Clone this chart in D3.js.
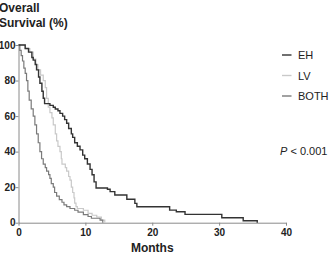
<!DOCTYPE html>
<html>
<head>
<meta charset="utf-8">
<script src="https://cdn.jsdelivr.net/npm/d3@7"></script>
<style>
  body { margin: 0; background: #fff; }
  svg { display: block; font-family: "Liberation Sans", Arial, sans-serif; }
</style>
</head>
<body>
<svg id="chart" width="334" height="254"></svg>
<script>
// survival steps: months, % surviving after that month
var ehMonths = [0, 1.0, 1.5, 2.0, 2.2, 2.5, 2.7, 3.0, 3.2, 3.5, 3.7, 3.9, 4.7, 5.2, 5.5, 5.9, 6.2, 6.6, 6.9, 7.2, 7.5, 7.9, 8.1, 8.4, 8.8, 9.2, 9.6, 9.9, 10.3, 10.7, 11.0, 11.3, 11.6, 13.3, 13.7, 14.4, 16.2, 17.4, 17.7, 22.6, 23.6, 24.9, 30.4, 33.6, 35.7]
var ehSurvival = [100, 98, 96, 93, 91.5, 89, 86, 82, 78.5, 74, 70, 67, 66, 65, 64, 63, 61.5, 60, 58, 56, 53, 50, 48, 45, 43, 41, 38, 36, 33, 30, 27, 23, 19.5, 18.8, 17.5, 15.6, 13.2, 10.9, 9.0, 7.1, 6.2, 4.7, 2.8, 1.1, 0]

var lvMonths = [0, 1.0, 1.7, 2.2, 2.6, 2.9, 3.3, 3.7, 4.0, 4.2, 4.45, 4.7, 5.0, 5.2, 5.5, 5.7, 5.9, 6.2, 6.4, 6.5, 7.0, 7.2, 7.5, 7.7, 7.9, 8.1, 8.3, 8.4, 8.6, 8.8, 9.7, 10.4, 11.0, 11.7, 12.4, 12.9]
var lvSurvival = [100, 98, 96, 92, 89, 86, 83, 80, 76, 70, 65, 62, 59, 55, 50, 46, 43, 40, 36, 33, 31, 29, 26, 24, 20, 17, 14, 11, 9, 8, 7, 5.3, 4.2, 3.2, 1.5, 0]

var bothMonths = [0, 0.2, 0.4, 0.6, 0.8, 1.0, 1.2, 1.4, 1.6, 1.9, 2.2, 2.45, 2.7, 2.95, 3.2, 3.45, 3.7, 4.0, 4.2, 4.5, 4.7, 4.9, 5.2, 5.4, 5.7, 6.1, 6.5, 6.8, 7.2, 7.7, 8.4, 8.9, 9.7, 10.4, 10.9, 12.2, 12.6]
var bothSurvival = [100, 97, 94, 91, 87, 84, 80, 74, 69, 64, 60, 55, 50, 45, 40, 36, 33, 31, 29, 27, 25, 22, 20, 17, 15, 13, 11.5, 10, 9, 8, 7, 6, 4.5, 3.5, 2.5, 1.5, 0]

var groups = ["EH", "LV", "BOTH"]
var groupColors = ["#333333", "#c9c9c9", "#7a7a7a"]
var xTicks = [0, 10, 20, 30, 40]
var yTicks = [0, 20, 40, 60, 80, 100]

var series = [
  { name: "EH", months: ehMonths, surv: ehSurvival },
  { name: "LV", months: lvMonths, surv: lvSurvival },
  { name: "BOTH", months: bothMonths, surv: bothSurvival }
]

var svg = d3.select("#chart")
var x = d3.scaleLinear().domain([0, 40]).range([18.5, 286])
var y = d3.scaleLinear().domain([0, 100]).range([222.7, 45])

// axes
var xAxis = svg.append("g")
  .attr("transform", "translate(0," + y(0) + ")")
  .call(d3.axisBottom(x).tickValues(xTicks).tickSize(3).tickSizeOuter(0))
var yAxis = svg.append("g")
  .attr("transform", "translate(" + x(0) + ",0)")
  .call(d3.axisLeft(y).tickValues(yTicks).tickSize(3).tickSizeOuter(0))

;[xAxis, yAxis].forEach(a => {
  a.select(".domain").attr("stroke", "#8a8a8a").attr("stroke-width", 1)
  a.selectAll(".tick line").attr("stroke", "#8a8a8a")
  a.selectAll("text")
    .attr("fill", "#222")
    .style("font-size", "10px")
    .style("font-weight", "bold")
    .style("font-family", "'Liberation Sans', Arial, sans-serif")
})
xAxis.selectAll("text").attr("dy", "0.75em").attr("y", 6)
yAxis.selectAll("text").attr("x", -3)

// curves
var line = d3.line()
  .x(d => x(d[0]))
  .y(d => y(d[1]))
  .curve(d3.curveStepAfter)

// draw light first so darker ones sit on top
var order = [1, 2, 0]
order.forEach(i => {
  var s = series[i]
  var pts = s.months.map((m, j) => [m, s.surv[j]])
  svg.append("path")
    .datum(pts)
    .attr("fill", "none")
    .attr("stroke", groupColors[i])
    .attr("stroke-width", i == 0 ? 1.4 : 1.2)
    .attr("d", line)
})

// titles
var title = svg.append("text")
  .attr("x", -1)
  .attr("fill", "#222")
  .style("font-size", "12px")
  .style("font-weight", "bold")
title.append("tspan").attr("x", -1).attr("y", 12).text("Overall")
title.append("tspan").attr("x", -1).attr("y", 27).text("Survival (%)")

svg.append("text")
  .attr("x", (x(0) + x(40)) / 2)
  .attr("y", 251.5)
  .attr("text-anchor", "middle")
  .attr("fill", "#222")
  .style("font-size", "12px")
  .style("font-weight", "bold")
  .text("Months")

// legend
var legend = svg.append("g")
groups.forEach((g, i) => {
  var ly = 55 + i * 20.5
  legend.append("line")
    .attr("x1", 282).attr("x2", 291.5)
    .attr("y1", ly).attr("y2", ly)
    .attr("stroke", groupColors[i])
    .attr("stroke-width", 1.4)
  legend.append("text")
    .attr("x", 298)
    .attr("y", ly + 4)
    .attr("fill", "#222")
    .style("font-size", "11px")
    .text(g)
})

// p value
var p = svg.append("text")
  .attr("x", 280)
  .attr("y", 155)
  .attr("fill", "#222")
  .style("font-size", "11px")
p.append("tspan").style("font-style", "italic").text("P")
p.append("tspan").text(" < 0.001")
</script>
</body>
</html>
